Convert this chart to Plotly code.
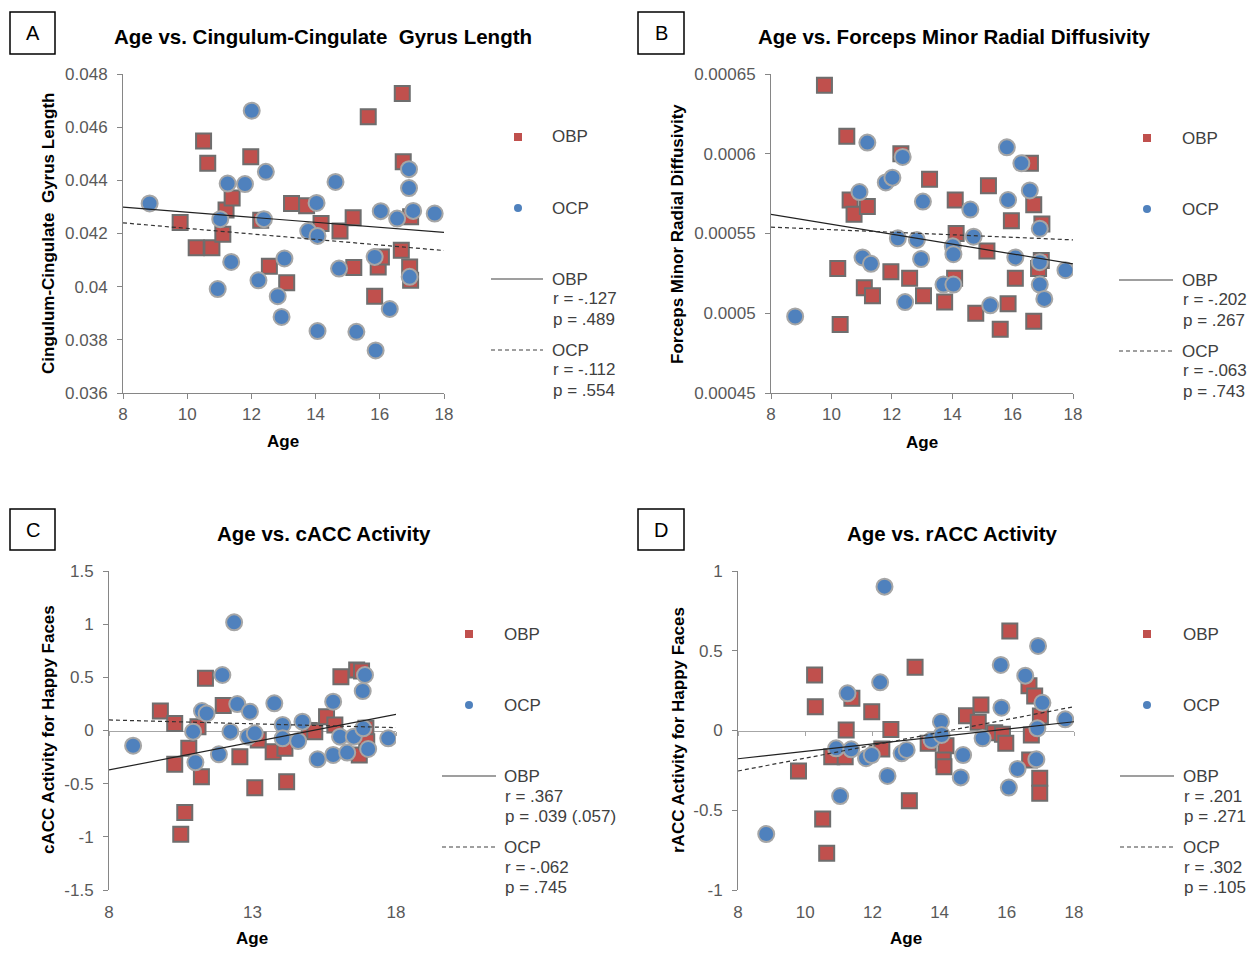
import plotly.graph_objects as go

W, H = 1255, 953
def fx(px): return px / W
def fy(py): return 1 - py / H

# ---------------- DATA ----------------
fit_x = [8, 18]

# Panel A: Cingulum-Cingulate Gyrus Length
a_obp_x = [9.78, 10.51, 10.64, 10.28, 10.77, 11.11, 11.21, 11.40, 11.98, 12.29, 12.56, 13.10, 13.25, 13.72,
           14.17, 14.76, 15.17, 15.19, 15.64, 15.84, 15.95, 16.05, 16.70, 16.73, 16.67, 16.93, 16.96, 16.96]
a_obp_y = [0.04241, 0.04548, 0.04464, 0.04146, 0.04146, 0.04197, 0.04288, 0.04334, 0.04489, 0.04250, 0.04077,
           0.04015, 0.04313, 0.04304, 0.04238, 0.04209, 0.04259, 0.04072, 0.04639, 0.03964, 0.04074, 0.04112,
           0.04727, 0.04470, 0.04137, 0.04074, 0.04024, 0.04263]
a_ocp_x = [8.83, 10.95, 11.03, 11.26, 11.37, 11.80, 12.01, 12.22, 12.39, 12.45, 12.82, 12.94, 13.03, 13.77, 14.03,
           14.06, 14.06, 14.62, 14.73, 15.27, 15.84, 15.87, 16.03, 16.31, 16.54, 16.91, 16.91, 16.93, 17.04, 17.71]
a_ocp_y = [0.04313, 0.03991, 0.04254, 0.04388, 0.04093, 0.04386, 0.04662, 0.04024, 0.04254, 0.04432, 0.03964,
           0.03886, 0.04106, 0.04209, 0.04315, 0.04191, 0.03833, 0.04394, 0.04068, 0.03830, 0.04112, 0.03760,
           0.04284, 0.03916, 0.04256, 0.04442, 0.04371, 0.04037, 0.04285, 0.04275]
a_fit_obp = [0.04299, 0.04204]
a_fit_ocp = [0.04240, 0.04136]
a_yticks = [0.036, 0.038, 0.040, 0.042, 0.044, 0.046, 0.048]
a_yticktext = ["0.036", "0.038", "0.04", "0.042", "0.044", "0.046", "0.048"]
a_xticks = [8, 10, 12, 14, 16, 18]

# Panel B: Forceps Minor Radial Diffusivity
b_obp_x = [9.77, 10.51, 10.62, 10.75, 11.19, 10.21, 10.29, 11.09, 11.36, 11.97, 12.30, 12.59, 13.05, 13.25, 13.75,
           14.10, 14.13, 14.08, 14.78, 15.20, 15.15, 15.59, 15.85, 15.96, 16.09, 16.59, 16.70, 16.70, 16.86,
           16.95, 16.97]
b_obp_y = [0.000643, 0.000611, 0.000571, 0.000562, 0.000567, 0.000528, 0.000493, 0.000516, 0.000511, 0.000526,
           0.000600, 0.000522, 0.000511, 0.000584, 0.000507, 0.000571, 0.000550, 0.000522, 0.000500, 0.000580,
           0.000539, 0.000490, 0.000506, 0.000558, 0.000522, 0.000594, 0.000568, 0.000495, 0.000528, 0.000533,
           0.000556]
b_ocp_x = [8.80, 10.93, 11.03, 11.19, 11.31, 11.80, 12.02, 12.20, 12.36, 12.44, 12.83, 12.97, 13.03, 13.71, 14.02,
           14.04, 14.04, 14.60, 14.71, 15.26, 15.81, 15.85, 16.09, 16.29, 16.57, 16.90, 16.90, 16.90, 17.05, 17.75]
b_ocp_y = [0.000498, 0.000576, 0.000535, 0.000607, 0.000531, 0.000582, 0.000585, 0.000547, 0.000598, 0.000507,
           0.000546, 0.000534, 0.000570, 0.000518, 0.000542, 0.000537, 0.000518, 0.000565, 0.000548, 0.000505,
           0.000604, 0.000571, 0.000535, 0.000594, 0.000577, 0.000553, 0.000532, 0.000518, 0.000509, 0.000527]
b_fit_obp = [0.000562, 0.000531]
b_fit_ocp = [0.000554, 0.000546]
b_yticks = [0.00045, 0.0005, 0.00055, 0.0006, 0.00065]
b_yticktext = ["0.00045", "0.0005", "0.00055", "0.0006", "0.00065"]
b_xticks = [8, 10, 12, 14, 16, 18]

# Panel C: cACC Activity for Happy Faces
c_obp_x = [9.79, 10.29, 10.29, 10.64, 10.50, 10.78, 11.10, 11.36, 11.22, 11.98, 12.56, 13.08, 13.20, 13.72,
           14.13, 14.19, 14.98, 15.17, 15.58, 15.87, 16.08, 16.63, 16.80, 16.72, 16.95, 16.98]
c_obp_y = [0.183, 0.067, -0.318, -0.770, -0.976, -0.168, 0.036, 0.491, -0.434, 0.234, -0.246, -0.538, -0.089,
           -0.199, -0.168, -0.481, 0.000, -0.011, 0.130, 0.052, 0.506, 0.569, 0.560, -0.230, 0.020, -0.105]
c_ocp_x = [8.84, 10.93, 11.01, 11.24, 11.40, 11.83, 11.95, 12.23, 12.36, 12.47, 12.91, 12.85, 13.08, 13.76, 14.05,
           14.05, 14.59, 14.74, 15.27, 15.81, 15.81, 16.05, 16.30, 16.53, 16.84, 16.92, 16.86, 17.03, 17.73]
c_ocp_y = [-0.143, -0.011, -0.299, 0.183, 0.160, -0.224, 0.522, -0.011, 1.017, 0.249, 0.177, -0.058, -0.027,
           0.256, 0.052, -0.074, -0.099, 0.083, -0.271, 0.271, -0.230, -0.058, -0.208, -0.058, 0.371, 0.522,
           0.020, -0.174, -0.074]
c_fit_obp = [-0.371, 0.152]
c_fit_ocp = [0.099, 0.027]
c_yticks = [-1.5, -1, -0.5, 0, 0.5, 1, 1.5]
c_yticktext = ["-1.5", "-1", "-0.5", "0", "0.5", "1", "1.5"]
c_xticks = [8, 13, 18]

# Panel D: rACC Activity for Happy Faces
d_obp_x = [9.80, 10.28, 10.30, 10.52, 10.64, 10.79, 11.19, 11.22, 11.39, 11.98, 12.28, 12.55, 13.27, 13.10,
           13.66, 14.19, 14.11, 14.13, 14.80, 15.15, 15.23, 15.64, 15.87, 15.97, 16.09, 16.66, 16.83, 16.73,
           16.68, 17.00, 16.98, 16.98]
d_obp_y = [-0.254, 0.348, 0.149, -0.555, -0.770, -0.164, -0.164, 0.003, 0.202, 0.118, -0.116, 0.007, 0.396,
           -0.440, -0.080, -0.095, -0.185, -0.227, 0.093, 0.051, 0.160, -0.014, -0.024, -0.080, 0.624, 0.281,
           0.216, -0.028, -0.185, 0.091, -0.300, -0.394]
d_ocp_x = [8.84, 10.92, 11.04, 11.26, 11.37, 11.81, 11.98, 12.23, 12.36, 12.45, 12.87, 13.02, 13.76, 14.04, 14.06,
           14.63, 14.70, 15.28, 15.82, 15.84, 16.06, 16.32, 16.55, 16.93, 16.91, 16.88, 17.06, 17.74]
d_ocp_y = [-0.649, -0.112, -0.411, 0.233, -0.118, -0.174, -0.154, 0.302, 0.902, -0.285, -0.143, -0.122, -0.060,
           0.055, -0.028, -0.294, -0.154, -0.049, 0.411, 0.143, -0.358, -0.241, 0.344, 0.530, 0.014, -0.181,
           0.174, 0.070]
d_fit_obp = [-0.177, 0.055]
d_fit_ocp = [-0.254, 0.149]
d_yticks = [-1, -0.5, 0, 0.5, 1]
d_yticktext = ["-1", "-0.5", "0", "0.5", "1"]
d_xticks = [8, 10, 12, 14, 16, 18]

# ---------------- STYLE ----------------
RED = "#C0504D"
BLUE = "#4F81BD"
AXC = "#868686"
TICKC = "#595959"
LEGC = "#404040"
FONT = "Liberation Sans, Arial, sans-serif"
DASH = "4px,3px"

fig = go.Figure()

panels = [
    dict(k="", xa="x", ya="y", dom_x=(123, 444), dom_y=(74, 393),
         ox=a_obp_x, oy=a_obp_y, cx=a_ocp_x, cy=a_ocp_y, fo=a_fit_obp, fc=a_fit_ocp,
         yr=(0.036, 0.048), yt=a_yticks, ytt=a_yticktext, xt=a_xticks, zero=False),
    dict(k="2", xa="x2", ya="y2", dom_x=(771, 1073), dom_y=(74, 393),
         ox=b_obp_x, oy=b_obp_y, cx=b_ocp_x, cy=b_ocp_y, fo=b_fit_obp, fc=b_fit_ocp,
         yr=(0.00045, 0.00065), yt=b_yticks, ytt=b_yticktext, xt=b_xticks, zero=False),
    dict(k="3", xa="x3", ya="y3", dom_x=(109, 396), dom_y=(571, 890),
         ox=c_obp_x, oy=c_obp_y, cx=c_ocp_x, cy=c_ocp_y, fo=c_fit_obp, fc=c_fit_ocp,
         yr=(-1.5, 1.5), yt=c_yticks, ytt=c_yticktext, xt=c_xticks, zero=True, zk="5"),
    dict(k="4", xa="x4", ya="y4", dom_x=(738, 1074), dom_y=(571, 890),
         ox=d_obp_x, oy=d_obp_y, cx=d_ocp_x, cy=d_ocp_y, fo=d_fit_obp, fc=d_fit_ocp,
         yr=(-1, 1), yt=d_yticks, ytt=d_yticktext, xt=d_xticks, zero=True, zk="6"),
]

layout = {}
for p in panels:
    k = p["k"]
    dx = [fx(p["dom_x"][0]), fx(p["dom_x"][1])]
    dy = [fy(p["dom_y"][1]), fy(p["dom_y"][0])]
    layout["xaxis" + k] = dict(
        domain=dx, range=[8, 18], anchor="y" + k, tickvals=p["xt"],
        showline=not p["zero"], linecolor=AXC, linewidth=1,
        ticks="" if p["zero"] else "outside", ticklen=5, tickcolor=AXC,
        showgrid=False, zeroline=False, automargin=False,
        tickfont=dict(family=FONT, size=17, color=TICKC),
        ticklabelstandoff=10 if p["zero"] else 1,
    )
    layout["yaxis" + k] = dict(
        domain=dy, range=list(p["yr"]), anchor="x" + k, tickvals=p["yt"], ticktext=p["ytt"],
        showline=True, linecolor=AXC, linewidth=1, ticks="outside", ticklen=5, tickcolor=AXC,
        showgrid=False, zeroline=False, automargin=False,
        tickfont=dict(family=FONT, size=17, color=TICKC),
        ticklabelstandoff=6,
    )
    # scatter points
    fig.add_trace(go.Scatter(
        x=p["ox"], y=p["oy"], xaxis=p["xa"], yaxis=p["ya"], mode="markers",
        marker=dict(symbol="square", size=15, color=RED, line=dict(color="#6E6E6E", width=2)),
        showlegend=False, hoverinfo="skip"))
    fig.add_trace(go.Scatter(
        x=p["cx"], y=p["cy"], xaxis=p["xa"], yaxis=p["ya"], mode="markers",
        marker=dict(symbol="circle", size=16, color=BLUE, line=dict(color="#A6A6A6", width=2)),
        showlegend=False, hoverinfo="skip"))
    # trend lines
    fig.add_trace(go.Scatter(
        x=fit_x, y=p["fo"], xaxis=p["xa"], yaxis=p["ya"], mode="lines",
        line=dict(color="#222222", width=1.2), showlegend=False, hoverinfo="skip"))
    fig.add_trace(go.Scatter(
        x=fit_x, y=p["fc"], xaxis=p["xa"], yaxis=p["ya"], mode="lines",
        line=dict(color="#333333", width=1.2, dash=DASH), showlegend=False, hoverinfo="skip"))
    if p["zero"]:
        zk = p["zk"]
        ymin, ymax = p["yr"]
        pos = dy[0] + (0 - ymin) / (ymax - ymin) * (dy[1] - dy[0])
        layout["xaxis" + zk] = dict(
            overlaying="x" + k, anchor="free", position=pos, range=[8, 18], tickvals=p["xt"],
            showline=True, linecolor="#A6A6A6", linewidth=1, ticks="outside", ticklen=4,
            tickcolor="#A6A6A6", showticklabels=False, showgrid=False, zeroline=False,
            layer="below traces", automargin=False,
        )
        fig.add_trace(go.Scatter(
            x=fit_x, y=[0, 0], xaxis="x" + zk, yaxis=p["ya"], mode="lines",
            line=dict(color="rgba(0,0,0,0)", width=0), showlegend=False, hoverinfo="skip"))

# ---------------- TEXT / ANNOTATIONS ----------------
ann = []
shapes = []

def text(px, py, s, size=16, bold=False, color="black", angle=0, xanchor="center"):
    ann.append(dict(x=fx(px), y=fy(py), xref="paper", yref="paper", text=("<b>%s</b>" % s) if bold else s,
                    showarrow=False, font=dict(family=FONT, size=size, color=color), textangle=angle,
                    xanchor=xanchor, yanchor="middle"))

titles = [(323, 36, "Age vs. Cingulum-Cingulate  Gyrus Length"),
          (954, 36, "Age vs. Forceps Minor Radial Diffusivity"),
          (324, 533, "Age vs. cACC Activity"),
          (952, 533, "Age vs. rACC Activity")]
for x, y, s in titles:
    text(x, y, s, size=20.5, bold=True)

ytitles = [(48, 234, "Cingulum-Cingulate  Gyrus Length"),
           (677, 234, "Forceps Minor Radial Diffusivity"),
           (48, 730, "cACC Activity for Happy Faces"),
           (678, 730, "rACC Activity for Happy Faces")]
for x, y, s in ytitles:
    text(x, y, s, size=17, bold=True, angle=-90)

for x, y in [(283, 441), (922, 442), (252, 938), (906, 938)]:
    text(x, y, "Age", size=17, bold=True)

# panel letter boxes
for (x0, y0, x1, y1, L) in [(10, 12, 55, 54, "A"), (638, 12, 684, 54, "B"),
                            (10, 509, 55, 550, "C"), (638, 509, 684, 550, "D")]:
    shapes.append(dict(type="rect", xref="paper", yref="paper", x0=fx(x0), x1=fx(x1), y0=fy(y1), y1=fy(y0),
                       line=dict(color="black", width=1.5), fillcolor="white"))
    text((x0 + x1) / 2, (y0 + y1) / 2, L, size=20, color="black")

# legends
legends = [
    dict(mx=518, tx=550, lx0=491, lx1=543, y0=137, obp=("r = -.127", "p = .489"), ocp=("r = -.112", "p = .554")),
    dict(mx=1147, tx=1180, lx0=1119, lx1=1173, y0=138, obp=("r = -.202", "p = .267"), ocp=("r = -.063", "p = .743")),
    dict(mx=469, tx=502, lx0=442, lx1=496, y0=634, obp=("r = .367", "p = .039 (.057)"), ocp=("r = -.062", "p = .745")),
    dict(mx=1147, tx=1181, lx0=1120, lx1=1174, y0=634, obp=("r = .201", "p = .271"), ocp=("r = .302", "p = .105")),
]
for L in legends:
    y0 = L["y0"]
    s = 4
    shapes.append(dict(type="rect", xref="paper", yref="paper", x0=fx(L["mx"] - s), x1=fx(L["mx"] + s),
                       y0=fy(y0 + s), y1=fy(y0 - s), fillcolor=RED, line=dict(width=0)))
    yc = y0 + 71
    shapes.append(dict(type="circle", xref="paper", yref="paper", x0=fx(L["mx"] - s), x1=fx(L["mx"] + s),
                       y0=fy(yc + s), y1=fy(yc - s), fillcolor=BLUE, line=dict(width=0)))
    text(L["tx"], y0, "OBP", size=17, color=LEGC, xanchor="left")
    text(L["tx"], yc, "OCP", size=17, color=LEGC, xanchor="left")
    ys = y0 + 142
    shapes.append(dict(type="line", xref="paper", yref="paper", x0=fx(L["lx0"]), x1=fx(L["lx1"]),
                       y0=fy(ys), y1=fy(ys), line=dict(color="#404040", width=1.2)))
    text(L["tx"], ys, "OBP", size=17, color=LEGC, xanchor="left")
    text(L["tx"] + 1, ys + 20, L["obp"][0], size=17, color=LEGC, xanchor="left")
    text(L["tx"] + 1, ys + 40, L["obp"][1], size=17, color=LEGC, xanchor="left")
    yd = y0 + 213
    shapes.append(dict(type="line", xref="paper", yref="paper", x0=fx(L["lx0"]), x1=fx(L["lx1"]),
                       y0=fy(yd), y1=fy(yd), line=dict(color="#404040", width=1.2, dash=DASH)))
    text(L["tx"], yd, "OCP", size=17, color=LEGC, xanchor="left")
    text(L["tx"] + 1, yd + 20, L["ocp"][0], size=17, color=LEGC, xanchor="left")
    text(L["tx"] + 1, yd + 40, L["ocp"][1], size=17, color=LEGC, xanchor="left")

fig.update_layout(
    width=W, height=H, margin=dict(l=0, r=0, t=0, b=0, autoexpand=False),
    paper_bgcolor="white", plot_bgcolor="white", showlegend=False,
    annotations=ann, shapes=shapes, font=dict(family=FONT),
    **layout,
)

fig.write_html("out.html")
